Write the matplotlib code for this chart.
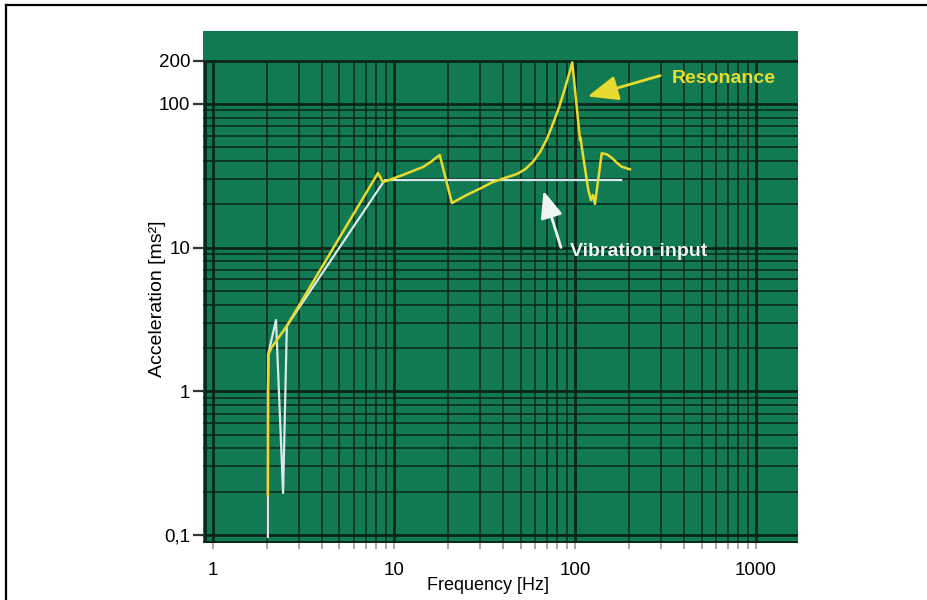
import matplotlib

matplotlib.use("Agg")
import matplotlib.pyplot as plt
from matplotlib.lines import Line2D
import numpy as np

plt.rcParams["font.family"] = ["Liberation Sans", "DejaVu Sans"]

# vibration input (white curve)
freq_input = [2.01, 2.01, 2.03, 2.23, 2.44, 2.56, 8.9, 180]
acc_input = [0.097, 1.0, 1.87, 3.13, 0.196, 2.85, 29.5, 29.5]

# response of the system (yellow curve)
freq_resp = [2.01, 2.02, 2.1, 2.56, 8.16, 8.7, 11.2, 14.5, 16.0, 17.9, 20.9, 24.7,
             31.0, 35.0, 42.0, 47.8, 53.0, 58.6, 64.0, 70.0, 76.0, 82.0, 88.0,
             93.0, 96.6, 106.6, 107.5, 108.9, 118.4, 122.5, 125.7, 128.9, 140.5,
             150, 160, 170, 181, 201]
acc_resp = [0.19, 1.79, 2.0, 2.85, 33, 28.5, 32, 36.4, 39.5, 44, 20.4, 22.9,
            26.3, 28.5, 30.8, 32.5, 35, 39.5, 46, 57, 74, 96, 128,
            163, 194, 56, 58, 50.4, 25.2, 21.4, 23.2, 20.1, 45.3,
            44.5, 42, 39, 36.5, 35]

x_ticks = [1, 10, 100, 1000]
x_ticklabels = ["1", "10", "100", "1000"]
y_ticks = [0.1, 1, 10, 100, 200]
y_ticklabels = ["0,1", "1", "10", "100", "200"]

green = "#127a52"
grid_col = "#0a2619"
yellow = "#e8da2e"
white = "#d9e8ec"

fig = plt.figure(figsize=(9.28, 6), dpi=100)
ax = fig.add_axes([203 / 928, 57 / 600, 595 / 928, 512 / 600])
ax.set_facecolor(green)
ax.set_xscale("log")
ax.set_yscale("log")
xmin, xmax = 0.881, 1706
ymin, ymax = 0.088, 321
ax.set_xlim(xmin, xmax)
ax.set_ylim(ymin, ymax)

# log paper grid: lines only up to 200
vx = [k * d for d in [0.1, 1, 10, 100, 1000] for k in range(1, 10) if xmin < k * d < xmax]
hy = [k * d for d in [0.01, 0.1, 1, 10, 100] for k in range(1, 10) if ymin < k * d <= 200]
for v in vx:
    major = v in x_ticks or abs(v - 0.9) < 1e-9
    ax.vlines(v, ymin, 200, color=grid_col, lw=2.0 if major else 1.1, zorder=1)
for h in hy:
    major = h in y_ticks or abs(h - 0.09) < 1e-9
    ax.hlines(h, xmin, xmax, color=grid_col, lw=2.0 if major else 1.1, zorder=1)

ax.plot(freq_input, acc_input, color=white, lw=1.6, zorder=3)
ax.plot(freq_resp, acc_resp, color=yellow, lw=1.8, zorder=4, solid_joinstyle="round")

# annotations
ax.annotate("", xy=(113.5, 111), xytext=(306, 159),
            arrowprops=dict(arrowstyle="-|>,head_length=1.1,head_width=0.45",
                            color=yellow, lw=2, mutation_scale=17), zorder=5)
ax.text(343, 151, "Resonance", color=yellow, fontsize=14, fontweight="bold",
        ha="left", va="center", zorder=5)
ax.annotate("", xy=(66.3, 25.9), xytext=(84.5, 9.6),
            arrowprops=dict(arrowstyle="-|>,head_length=1.1,head_width=0.45",
                            color="#eef3f3", lw=2, mutation_scale=15), zorder=5)
ax.text(93.8, 9.46, "Vibration input", color="#eef3f3", fontsize=14,
        fontweight="bold", ha="left", va="center", zorder=5)

for s in ax.spines.values():
    s.set_visible(False)

ax.set_xticks(x_ticks)
ax.set_xticklabels(x_ticklabels)
ax.set_xticks([k * d for d in [1, 10, 100] for k in range(2, 10)], minor=True)
ax.xaxis.set_minor_formatter(matplotlib.ticker.NullFormatter())
ax.set_yticks(y_ticks)
ax.set_yticklabels(y_ticklabels)
ax.yaxis.set_minor_locator(matplotlib.ticker.NullLocator())
ax.tick_params(axis="x", which="both", length=4, width=1.2, color="#9a9a9a",
               labelsize=13.5, pad=10)
ax.tick_params(axis="y", length=7, width=1.6, color="#333333", labelsize=13.5, pad=2)

ax.set_xlabel("Frequency [Hz]", fontsize=13)
ax.xaxis.set_label_coords(0.479, -0.066)
ax.set_ylabel("Acceleration [ms²]", fontsize=14)
ax.yaxis.set_label_coords(-0.062, 0.478)

# image frame (left and top edges)
fig.add_artist(Line2D([6 / 928, 6 / 928], [0, 595 / 600], color="black", lw=1.6))
fig.add_artist(Line2D([6 / 928, 1], [595 / 600, 595 / 600], color="black", lw=1.6))

fig.savefig("out.png", dpi=100)
